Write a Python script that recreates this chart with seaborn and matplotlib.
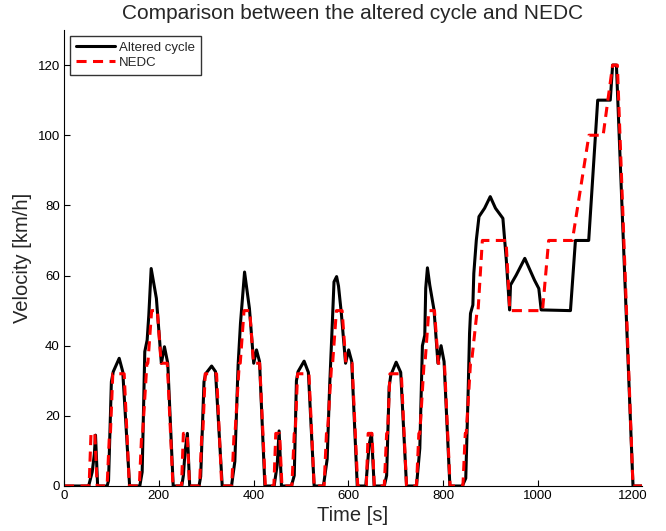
import matplotlib
matplotlib.use("Agg")
import matplotlib.pyplot as plt
import seaborn as sns
import pandas as pd

# ---- Data: altered cycle (black) ----
altered_t = [0, 52, 59.5, 64, 66.5, 71,
             91, 94, 100, 104, 116.5, 124, 138.5,
             160, 165, 170.5, 175.5, 179, 184, 195, 205.5, 212, 219, 230.5,
             248.5, 252, 255.5, 260.4, 265.3,
             285, 288.5, 295.5, 299, 311.6, 319.8, 334,
             353.6, 360.6, 367.5, 372.5, 381.1, 391.4, 400.4, 406.3, 412.7, 424,
             443.5, 450, 454, 459,
             480, 486, 490.6, 494, 506.8, 515.8, 528,
             547.6, 555.5, 560.5, 565, 569.9, 575.4, 579.4, 585.4, 594.3, 600.8, 607.3, 619,
             637, 644, 649, 654.7,
             676, 681, 686.3, 689.8, 701.1, 710.7, 723,
             744, 751, 756.5, 761.5, 763.5, 767.1, 772, 781, 789.3, 795.9, 802.2, 814.5,
             840.7, 848, 852.8, 856, 858, 863, 865, 870.3, 875.9, 887.8, 899.7, 910.7,
             926.4, 933.6, 940.5, 942.5, 954.4, 972.6, 993, 1002.2, 1007.2,
             1069, 1079.5, 1107.5, 1126.5, 1153, 1158, 1166, 1201, 1220]
altered_v = [0, 0, 4, 9, 14.5, 0,
             0, 1.5, 29.7, 32.6, 36.4, 32.6, 0,
             0, 4, 38.3, 41.6, 48.7, 62, 53.5, 35, 39.7, 35, 0,
             0, 3, 9.8, 15, 0,
             0, 2.7, 29.7, 32, 34.2, 32.6, 0,
             0, 7, 34.5, 46.4, 61, 50.6, 35, 38.8, 35.5, 0,
             0, 6, 15.7, 0,
             0, 3, 30, 32.6, 35.6, 32.4, 0,
             0, 7.7, 27.8, 42, 58.2, 59.7, 57, 49.2, 35, 38.8, 35.5, 0,
             0, 11.7, 15, 0,
             0, 3, 28.3, 31.6, 35.3, 32.4, 0,
             0, 10.7, 40, 43, 56.4, 62.2, 57.3, 50.2, 35, 40, 35.5, 0,
             0, 2.2, 25.5, 43.5, 49.2, 51.6, 60.6, 70.1, 76.8, 79.2, 82.5, 79.2,
             76.3, 64.4, 50.2, 57.3, 60.1, 64.9, 58.7, 56.3, 50.2,
             50, 70, 70, 110, 110, 120, 120, 0, 0]

# ---- Data: NEDC (red dashed) ----
nedc_t = [0, 53, 57, 65, 70, 91, 96, 98, 103, 127, 138, 159, 164, 166, 175, 177, 185, 197, 205, 218, 230,
          248, 252, 260, 265, 286, 291, 293, 298, 322, 333, 354, 359, 361, 370, 372, 380, 392, 400, 413, 425,
          443, 447, 455, 460, 481, 486, 488, 493, 517, 528, 549, 554, 556, 565, 567, 575, 587, 595, 608, 620,
          638, 642, 650, 655, 676, 681, 683, 688, 712, 723, 744, 749, 751, 760, 762, 770, 782, 790, 803, 815,
          842, 847, 849, 858, 860, 872, 874, 883, 933, 941, 1010, 1023, 1073, 1108, 1138, 1158, 1168, 1201, 1220]
nedc_v = [0, 0, 15, 15, 0, 0, 15, 15, 32, 32, 0, 0, 15, 15, 35, 35, 50, 50, 35, 35, 0,
          0, 15, 15, 0, 0, 15, 15, 32, 32, 0, 0, 15, 15, 35, 35, 50, 50, 35, 35, 0,
          0, 15, 15, 0, 0, 15, 15, 32, 32, 0, 0, 15, 15, 35, 35, 50, 50, 35, 35, 0,
          0, 15, 15, 0, 0, 15, 15, 32, 32, 0, 0, 15, 15, 35, 35, 50, 50, 35, 35, 0,
          0, 15, 15, 35, 35, 50, 50, 70, 70, 50, 50, 70, 70, 100, 100, 120, 120, 0, 0]

x_ticks = [0, 200, 400, 600, 800, 1000, 1200]
y_ticks = [0, 20, 40, 60, 80, 100, 120]

sns.set_style("white")
plt.rcParams['font.family'] = ['Liberation Sans', 'DejaVu Sans']

fig = plt.figure(figsize=(6.66, 5.31), dpi=100)
ax = fig.add_axes([64/666, 1 - 486/531, (642-64)/666, (486-30)/531])

df_alt = pd.DataFrame({"t": altered_t, "v": altered_v})
df_nedc = pd.DataFrame({"t": nedc_t, "v": nedc_v})

sns.lineplot(data=df_alt, x="t", y="v", ax=ax, color="black", lw=2.2,
             estimator=None, sort=False, label="Altered cycle")
sns.lineplot(data=df_nedc, x="t", y="v", ax=ax, color="#ff0000", lw=2.2,
             estimator=None, sort=False, label="NEDC", dashes=False)
ax.lines[1].set_dashes((3.3, 2.1))

ax.set_xlim(0, 1220)
ax.set_ylim(0, 130)
ax.set_xticks(x_ticks)
ax.set_yticks(y_ticks)
ax.tick_params(direction="in", length=4, width=0.8, labelsize=9.5, colors="black",
               top=False, right=False, bottom=True, left=True, pad=3)
for s in ["top", "right"]:
    ax.spines[s].set_visible(False)
for s in ["left", "bottom"]:
    ax.spines[s].set_color("black")
    ax.spines[s].set_linewidth(0.8)

ax.set_xlabel("Time [s]", fontsize=14.5, labelpad=3)
ax.set_ylabel("Velocity [km/h]", fontsize=14.5, labelpad=4)
ax.set_title("Comparison between the altered cycle and NEDC", fontsize=15, pad=8)

leg = ax.legend(loc="upper left", bbox_to_anchor=(0.0097, 0.987), borderaxespad=0,
                fontsize=9.5, handlelength=3.0, frameon=True, fancybox=False,
                labelspacing=0.2, borderpad=0.45, handletextpad=0.3)
leg.get_frame().set_edgecolor("black")
leg.get_frame().set_linewidth(1.0)
leg.get_lines()[1].set_dashes((3.3, 2.1))

fig.savefig("out.png", dpi=100)
